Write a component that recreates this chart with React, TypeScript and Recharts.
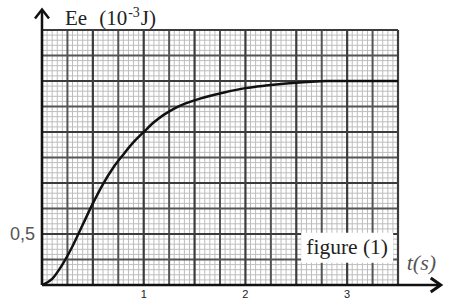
import React from 'react';
import { ComposedChart, Line, XAxis, YAxis, ReferenceLine, ReferenceDot } from 'recharts';

// Time (s) and electric energy Ee (10^-3 J)
const tValues = [0, 0.1, 0.2, 0.3, 0.4, 0.5, 0.6, 0.7, 0.8, 0.9, 1.0, 1.1, 1.2, 1.3, 1.4, 1.5, 1.6, 1.8, 2.0, 2.2, 2.4, 2.6, 2.8, 3.0, 3.5];
const eValues = [0, 0.06, 0.2, 0.38, 0.59, 0.8, 0.99, 1.15, 1.28, 1.4, 1.5, 1.595, 1.67, 1.73, 1.775, 1.81, 1.84, 1.89, 1.93, 1.955, 1.975, 1.99, 2.0, 2.0, 2.0];
const xTicks = [1, 2, 3];
const xTickLabels = ['1', '2', '3'];
const yMarkValue = 0.5;
const yMarkLabel = '0,5';
const X_MAX = 3.5;
const Y_MAX = 2.5;

const data = tValues.map((t, i) => ({ t, e: eValues[i] }));

const steps = (max: number, step: number) => {
  const out: number[] = [];
  const n = Math.round(max / step);
  for (let i = 0; i <= n; i++) out.push(Math.round(i * step * 1000) / 1000);
  return out;
};
const fineX = steps(X_MAX, 0.05);
const fineY = steps(Y_MAX, 0.05);
const midX = steps(X_MAX, 0.25).filter((v) => Math.round(v * 4) % 2 === 1);
const midY = steps(Y_MAX, 0.25).filter((v) => Math.round(v * 4) % 2 === 1);
const majX = steps(X_MAX, 0.5);
const majY = steps(Y_MAX, 0.5);

const serif = '"Liberation Serif", "Times New Roman", serif';
const sans = '"Liberation Sans", Arial, sans-serif';

const TitleShape = (p: any) => (
  <g>
    <path d={`M ${p.cx - 7} ${p.cy + 9} L ${p.cx} ${p.cy} L ${p.cx + 7} ${p.cy + 9}`} stroke="#111" strokeWidth={2.5} fill="none" />
    <text x={p.cx + 23} y={p.cy + 15} fontFamily={serif} fontSize={21} fill="#222" style={{ whiteSpace: 'pre' }}>
      <tspan>{'Ee'}</tspan>
      <tspan dx={12}>{'(10'}</tspan>
      <tspan fontSize={14} dy={-8} dx={1}>{'-3'}</tspan>
      <tspan dy={8} dx={1}>{'J)'}</tspan>
    </text>
  </g>
);

const XArrowShape = (p: any) => (
  <g>
    <path d={`M ${p.cx - 10} ${p.cy - 7} L ${p.cx} ${p.cy} L ${p.cx - 10} ${p.cy + 7}`} stroke="#111" strokeWidth={3} fill="none" />
    <text x={p.cx - 34} y={p.cy - 15} fontFamily={serif} fontStyle="italic" fontSize={22} fill="#555">t(s)</text>
  </g>
);

const YMarkShape = (p: any) => (
  <text x={p.cx - 7} y={p.cy + 6} textAnchor="end" fontFamily={sans} fontSize={18} fill="#555">{yMarkLabel}</text>
);

const FigureShape = (p: any) => (
  <g>
    <rect x={p.cx - 46} y={p.cy - 15} width={92} height={30} fill="#fff" />
    <text x={p.cx} y={p.cy + 6} textAnchor="middle" fontFamily={serif} fontSize={21.5} fill="#222">figure (1)</text>
  </g>
);

export default function App() {
  return (
    <div style={{ position: 'absolute', left: 0, top: 0, width: 450, height: 305, background: '#fff' }}>
      <ComposedChart width={450} height={305} data={data} margin={{ top: 30, right: 52, bottom: 0, left: 42 }}>
        <XAxis
          dataKey="t"
          type="number"
          domain={[0, X_MAX]}
          ticks={xTicks}
          tickFormatter={(v: number) => xTickLabels[xTicks.indexOf(v)] ?? ''}
          axisLine={false}
          tickLine={false}
          tickSize={3}
          height={20}
          allowDataOverflow
          tick={{ fontFamily: sans, fontSize: 11, fill: '#222' }}
        />
        <YAxis type="number" domain={[0, Y_MAX]} hide allowDataOverflow />
        {fineX.map((v) => (
          <ReferenceLine key={'fx' + v} x={v} stroke="#bdbdbd" strokeWidth={1} />
        ))}
        {fineY.map((v) => (
          <ReferenceLine key={'fy' + v} y={v} stroke="#bdbdbd" strokeWidth={1} />
        ))}
        {midX.map((v) => (
          <ReferenceLine key={'mx' + v} x={v} stroke="#555" strokeWidth={2} />
        ))}
        {midY.map((v) => (
          <ReferenceLine key={'my' + v} y={v} stroke="#555" strokeWidth={2} />
        ))}
        {majX.map((v) => (
          <ReferenceLine key={'Mx' + v} x={v} stroke="#3c3c3c" strokeWidth={2.2} />
        ))}
        {majY.map((v) => (
          <ReferenceLine key={'My' + v} y={v} stroke="#3c3c3c" strokeWidth={2.2} />
        ))}
        <ReferenceLine segment={[{ x: 0, y: 0 }, { x: 0, y: 2.69 }]} stroke="#111" strokeWidth={2.5} ifOverflow="visible" />
        <ReferenceLine segment={[{ x: 0, y: 0 }, { x: 3.92, y: 0 }]} stroke="#111" strokeWidth={2.5} ifOverflow="visible" />
        <ReferenceDot x={3.0} y={0.365} r={0} shape={FigureShape} ifOverflow="visible" />
        <Line dataKey="e" type="monotone" stroke="#111" strokeWidth={2.5} dot={false} isAnimationActive={false} />
        <ReferenceDot x={0} y={2.7} r={0} shape={TitleShape} ifOverflow="visible" />
        <ReferenceDot x={3.92} y={0} r={0} shape={XArrowShape} ifOverflow="visible" />
        <ReferenceDot x={0} y={yMarkValue} r={0} shape={YMarkShape} ifOverflow="visible" />
      </ComposedChart>
    </div>
  );
}
